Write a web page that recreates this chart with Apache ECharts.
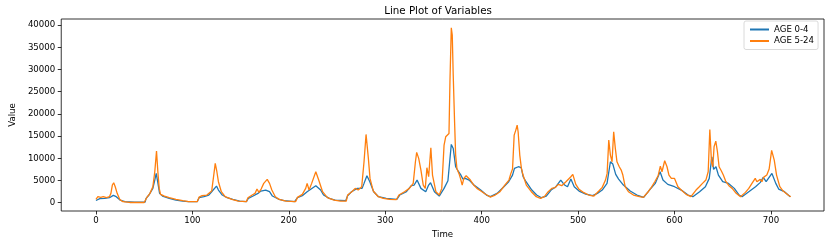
<!DOCTYPE html>
<html>
<head>
<meta charset="utf-8">
<script src="https://cdn.jsdelivr.net/npm/echarts@6/dist/echarts.min.js"></script>
<style>html,body{margin:0;padding:0;background:#fff;}#c{width:830px;height:244px;}</style>
</head>
<body>
<div id="c"></div>
<script>
const seriesNames = ['AGE 0-4', 'AGE 5-24'];
const xTicks = [0, 100, 200, 300, 400, 500, 600, 700];
const yTicks = [0, 5000, 10000, 15000, 20000, 25000, 30000, 35000, 40000];

const age04Time = [0,4,9,14,18,21,25,30,40,51,52,55,59,61,62.5,64,66,69,76,83,90,96,105,107,112,117,120,125,127,131,136,142,149,156,158,163,168,171,176,180,183,189,195,206,209,214,219,228,230,233,236,242,248,259,261,265,271,276,278,281,284,288,293,301,312,315,322,327,330,333,337,342,345,347,351,356,361,365,368.5,370.5,373,376,378,380.5,383,387,392,399,405,409,416,423,428,432,434,438,441,443,446,452,457,462,467,472,477,482,486,489,492.5,496,501,508,515,520,525,530,533.5,536,539,542,547,554,561,568,574,580,585,588,593,600,607,614,619,626,632,636,638.7,640.5,643,645.5,650,656,662,667,670,677,684,689,692,695,701,705,708,714,720];
const age04Value = [500,900,975,1125,1650,1350,600,225,100,150,975,1725,3225,5100,6600,4725,2100,1500,975,600,375,225,225,1125,1350,1725,2475,3750,2850,1725,1125,750,375,225,975,1500,2100,2625,2850,2475,1500,825,450,225,1125,1575,2475,3825,3600,2850,1725,975,600,450,1575,2475,3225,3225,4350,6075,4725,2475,1350,975,750,1725,2475,3825,3975,5100,3225,2475,3975,4500,2475,1500,3225,4950,13125,12225,8100,6975,6375,5325,5475,5100,3975,2850,1725,1350,2100,3600,4725,6225,7725,8100,7875,5850,4725,2850,1725,1125,1500,2850,3600,5100,3975,3600,5325,3600,2625,1950,1575,2100,2850,4350,9225,8700,6375,5325,3975,2625,1725,1200,2850,4350,6975,5100,4125,3600,2850,1725,1350,2475,3600,5475,10350,7500,8100,6225,4725,4350,3225,1725,1350,2475,3600,4575,5700,4725,6600,4350,3075,2475,1350];

const age524Time = [0,2,5,7.5,11,14,15.5,17,18.4,20,22,24.6,28,35,50,52.6,56,59,61,62.8,64.2,65.6,67,71,76,83,90,96,105,107,110,115,120,122.4,123.7,125.4,127,130,134,141,147.5,156,157.6,162,165,167,169,171.3,174,177.6,180,182.4,186,190,197,207,209,214,217.5,219,221,223.7,228,231,235,240,247,253.5,259.6,261,265.4,268.8,272,275.6,278,280.1,282.5,284.2,287.6,292.7,298,304.6,311.5,314.2,320,325,329,331.3,332.6,334.7,337,339.4,341.5,343.2,345,347.3,349,352.5,356,358.6,361,362.7,364.4,366.1,367.1,368.5,369.5,370.5,371.9,373,374.3,376.4,378,379.8,381.5,383.9,385.9,388.3,391.7,395.1,400.3,403.7,408.8,414,419,424,428.3,430.3,432,433.7,435.4,436.8,437.8,439.5,441.2,442.9,446.3,451.5,456.6,461,465,469,472.7,476,479.5,483,487.4,492.5,494.5,497.6,501,506,511,516.4,521.5,525,528.4,530.1,531.8,533.5,535.2,536.9,538.6,540.3,542.7,544.7,546.4,548.8,552.2,557.4,563.5,567.6,572.7,576,579.5,583,585.3,587,589.8,592.2,594.2,596.7,600,603.5,607,612,617,622.3,625.7,629,632.5,634.9,636.6,638.3,639.7,641,642.8,644.5,646.2,648.6,650.6,653,656.4,659.8,663.3,668.4,673.5,677,680.3,683.7,685.4,688.9,690.6,692.3,695.7,698.1,700.7,703.4,705.8,709.2,712.6,717.8,720.5];
const age524Value = [750,1350,1200,1350,1125,1350,2100,3975,4500,3600,2100,750,225,50,50,1125,2100,3600,6975,11625,6975,3225,1875,1500,1125,750,450,225,225,1275,1575,1725,2625,6600,8850,6975,4725,2475,1350,750,375,225,1125,1725,2100,3075,2325,3075,4350,5250,4350,2850,1350,750,375,225,1200,1875,3225,4350,2850,4350,6975,5100,2475,1125,600,375,375,1725,2475,3225,2850,3600,9225,15375,9975,5475,2625,1350,975,750,675,1725,2475,3225,4350,9225,11325,9975,7350,3975,3225,7875,5850,12375,6225,2475,1725,3225,12975,14850,15225,15600,27225,39375,37725,28725,18225,10725,7725,6600,5475,3975,5475,6075,5625,5100,3975,3225,2475,1950,1275,1725,2475,3975,5100,6600,7575,15225,16350,17475,15975,10725,7725,6225,3975,2475,1350,975,1350,2475,3225,3375,4125,3825,4725,5850,6375,4125,3000,2250,1725,1500,2625,3450,5100,6600,14100,10725,9225,15975,12225,9225,8100,7350,6225,3600,2475,1725,1350,1200,2475,3450,4725,6075,8250,6975,9450,8100,6225,5475,5475,3600,2850,1875,1350,2850,3600,4350,5100,6975,16500,9225,8100,12600,13875,11475,8100,7125,6225,4875,3825,3225,2250,1350,2325,3225,4350,5475,4725,5250,4725,5700,6225,7575,11775,9600,6225,3600,2625,1725,1350];

function zip(ts, vs) { return ts.map((t, i) => [t, vs[i]]); }

const chart = echarts.init(document.getElementById('c'), null, { renderer: 'canvas' });
const FONT = 'DejaVu Sans';
chart.setOption({
  animation: false,
  backgroundColor: '#fff',
  textStyle: { fontFamily: FONT },
  title: {
    text: 'Line Plot of Variables',
    left: 438, top: 6, padding: 0, textAlign: 'center',
    textStyle: { fontFamily: FONT, fontSize: 10.3, fontWeight: 'normal', color: '#000' }
  },
  legend: {
    orient: 'vertical', left: 744, top: 21,
    padding: [4, 4, 4, 6], itemGap: 2.5, itemWidth: 19, itemHeight: 2,
    borderColor: '#d0d0d0', borderWidth: 0.8, borderRadius: 2,
    backgroundColor: 'rgba(255,255,255,0.8)',
    textStyle: { fontFamily: FONT, fontSize: 8.6, color: '#000' },
    data: [{ name: seriesNames[0], icon: 'rect' }, { name: seriesNames[1], icon: 'rect' }]
  },
  grid: {
    left: 52, right: 6, top: 19, bottom: 33,
    show: true, borderColor: '#000', borderWidth: 0.8, containLabel: false
  },
  xAxis: {
    type: 'value', min: -36, max: 755,
    name: 'Time', nameLocation: 'middle', nameGap: 17,
    nameTextStyle: { fontFamily: FONT, fontSize: 8.6, color: '#000' },
    axisLine: { show: false, onZero: false },
    splitLine: { show: false },
    axisTick: { show: true, length: 3.5, customValues: xTicks, lineStyle: { color: '#000', width: 0.8 } },
    axisLabel: { customValues: xTicks, margin: 5, fontFamily: FONT, fontSize: 8.6, color: '#000',
      formatter: v => String(v) }
  },
  yAxis: {
    type: 'value', min: -1870, max: 41374,
    name: 'Value', nameLocation: 'middle', nameGap: 37,
    nameTextStyle: { fontFamily: FONT, fontSize: 8.6, color: '#000' },
    axisLine: { show: false, onZero: false },
    splitLine: { show: false },
    axisTick: { show: true, length: 3.5, customValues: yTicks, lineStyle: { color: '#000', width: 0.8 } },
    axisLabel: { customValues: yTicks, margin: 6, fontFamily: FONT, fontSize: 8.6, color: '#000',
      formatter: v => String(v) }
  },
  series: [
    { name: seriesNames[0], type: 'line', data: zip(age04Time, age04Value), showSymbol: false, symbol: 'none',
      color: '#1f77b4', lineStyle: { width: 1.3, color: '#1f77b4' } },
    { name: seriesNames[1], type: 'line', data: zip(age524Time, age524Value), showSymbol: false, symbol: 'none',
      color: '#ff7f0e', lineStyle: { width: 1.3, color: '#ff7f0e' } }
  ]
});
</script>
</body>
</html>
